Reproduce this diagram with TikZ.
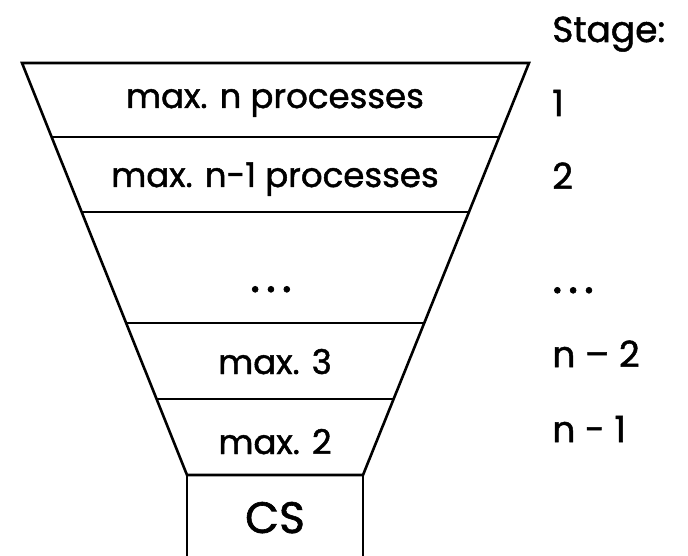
\documentclass[tikz,border=0pt]{standalone}
\usepackage{fontspec}
\setmainfont{Poppins}[FakeBold=1.4]
\usetikzlibrary{calc}
% three separate full stops, set large and spaced apart
\newcommand{\dotrow}{{\fontsize{48}{48}\selectfont.\kern0.12em.\kern0.12em.}}
\begin{document}
\begin{tikzpicture}[x=1pt,y=-1pt,line width=2.6pt,
  lbl/.style={font=\fontsize{34}{38}\selectfont,inner sep=0pt,anchor=base},
  stg/.style={font=\fontsize{36}{40}\selectfont,inner sep=0pt,anchor=base west},
  cs/.style={font=\fontsize{44}{48}\selectfont,inner sep=0pt,anchor=base}]
\useasboundingbox (0,0) rectangle (688,556);
% funnel corners
\coordinate (tl) at (22,63);
\coordinate (tr) at (529,63);
\coordinate (bl) at (187,475);
\coordinate (br) at (363,475);
\coordinate (csl) at (187,556);
\coordinate (csr) at (363,556);
% funnel outline
\draw[line join=miter] (tl) -- (tr) -- (br) -- (bl) -- cycle;
% stage separators
\foreach \t in {0.1796,0.3617,0.6310,0.8155}
  \draw ($(tl)!\t!(bl)$) -- ($(tr)!\t!(br)$);
% critical section box
\draw (bl) -- (csl);
\draw (br) -- (csr);
% labels inside the funnel
\node[lbl] (s1) at (275,108) {max. n processes};
\node[lbl] (s2) at (275,187) {max. n-1 processes};
\node[lbl] (sd) at (271,292) {\dotrow};
\node[lbl] (s3) at (275,374) {max. 3};
\node[lbl] (s4) at (275,454) {max. 2};
\node[cs] (csn) at (275,533) {CS};
% stage numbers
\node[stg] (st) at (551,42) {Stage:};
\node[stg] (n1) at (551,116) {1};
\node[stg] (n2) at (551,189) {2};
\node[stg] (nd) at (551,293) {\dotrow};
\node[stg] (n3) at (551,367) {n – 2};
\node[stg] (n4) at (551,442) {n - 1};
\end{tikzpicture}
\end{document}
